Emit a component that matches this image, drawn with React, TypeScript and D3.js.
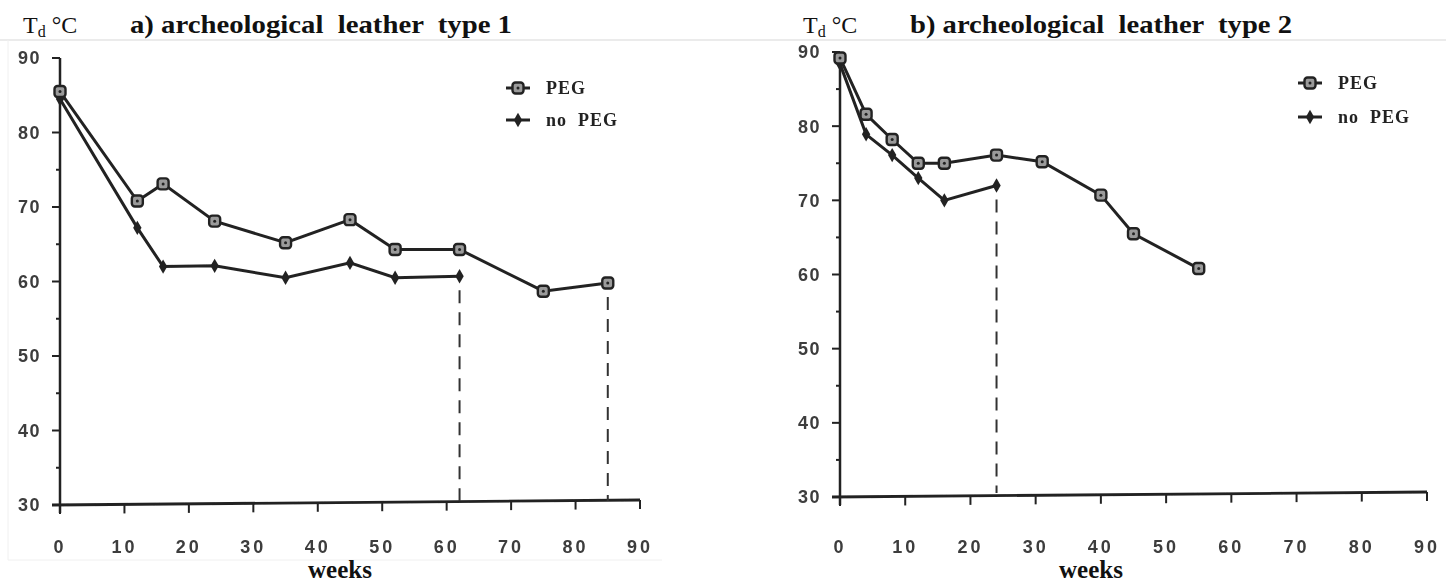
import * as d3 from "d3";

// ---- data ----
const weeksA_peg = [0, 12, 16, 24, 35, 45, 52, 62, 75, 85];
const tdA_peg = [85.5, 70.8, 73.1, 68.1, 65.2, 68.3, 64.3, 64.3, 58.7, 59.8];
const weeksA_noPeg = [0, 12, 16, 24, 35, 45, 52, 62];
const tdA_noPeg = [84.5, 67.2, 62.0, 62.1, 60.5, 62.5, 60.5, 60.7];
const dropA = [62, 85];

const weeksB_peg = [0, 4, 8, 12, 16, 24, 31, 40, 45, 55];
const tdB_peg = [89.2, 81.6, 78.2, 75.0, 75.0, 76.1, 75.2, 70.7, 65.5, 60.8];
const weeksB_noPeg = [0, 4, 8, 12, 16, 24];
const tdB_noPeg = [88.4, 78.9, 76.1, 73.0, 70.0, 72.0];
const dropB = [24];

const xTicks = [0, 10, 20, 30, 40, 50, 60, 70, 80, 90];
const yTicks = [30, 40, 50, 60, 70, 80, 90];
const yMinor = [35, 45, 55, 65, 75, 85];
const seriesNames = ["PEG", "no PEG"];
const titles = ["a) archeological  leather  type 1", "b) archeological  leather  type 2"];

const INK = "#222";
const LABEL = "#3c3c3c";
const SANS = "'Liberation Sans', Arial, sans-serif";
const SERIF = "'Liberation Serif', 'DejaVu Serif', serif";

type PanelProps = {
  x0: number; x1: number; y30: number; y90: number;
  peg: [number[], number[]]; noPeg: [number[], number[]]; drops: number[];
  legendX: number; legendY: number; legendGap: number;
  tdX: number; titleX: number; title: string; weeksX: number;
};

const Panel = (p: PanelProps) => {
  const x = d3.scaleLinear().domain([0, 90]).range([p.x0, p.x1]);
  const y = d3.scaleLinear().domain([30, 90]).range([p.y30, p.y90]);
  const line = d3.line<[number, number]>().x((d) => x(d[0])).y((d) => y(d[1]));
  const pegPts = p.peg[0].map((w, i) => [w, p.peg[1][i]] as [number, number]);
  const noPts = p.noPeg[0].map((w, i) => [w, p.noPeg[1][i]] as [number, number]);
  const lowAt = (w: number) => {
    const vals = [...pegPts, ...noPts].filter((d) => d[0] === w).map((d) => d[1]);
    return d3.min(vals) ?? 30;
  };

  const pegMarker = (cx: number, cy: number, k: string) => (
    <g key={k}>
      <rect x={cx - 5.5} y={cy - 5.5} width={11} height={11} rx={3} fill="#9a9a9a" stroke={INK} strokeWidth={2.4} />
      <circle cx={cx} cy={cy} r={1.5} fill={INK} />
    </g>
  );
  const noMarker = (cx: number, cy: number, k: string) => (
    <path key={k} transform={`translate(${cx},${cy})`} d={d3.symbol(d3.symbolDiamond, 60)() || ""} fill={INK} />
  );

  return (
    <g>
      <text x={p.tdX} y={33} fontFamily={SERIF} fontSize={24} fill="#111">
        T<tspan fontSize={16} dy={4}>d</tspan>
        <tspan dy={-4}> °C</tspan>
      </text>
      <text x={p.titleX} y={33} fontFamily={SERIF} fontSize={26} fontWeight="bold" fill="#111"
        textLength={382} lengthAdjust="spacingAndGlyphs" style={{ whiteSpace: "pre" }}>
        {p.title}
      </text>
      <text x={p.weeksX} y={578} textAnchor="middle" fontFamily={SERIF} fontSize={25} fontWeight="bold" fill="#111">
        weeks
      </text>

      <g filter="url(#scan)">
        {/* axes */}
        <line x1={p.x0} x2={p.x0} y1={y(90)} y2={p.y30 + 8} stroke={INK} strokeWidth={2.5} />
        <line x1={p.x0 - 8} x2={x(90)} y1={p.y30} y2={p.y30 - 5} stroke={INK} strokeWidth={2.8} />
        {yTicks.map((t) => (
          <g key={t}>
            <line x1={p.x0 - 8} x2={p.x0} y1={y(t)} y2={y(t)} stroke={INK} strokeWidth={2} />
            <text x={p.x0 - 19} y={y(t)} dy="0.36em" textAnchor="end" fontFamily={SANS} fontWeight="bold" fontSize={18} fill={LABEL} letterSpacing={1.5}>
              {t}
            </text>
          </g>
        ))}
        {yMinor.map((t) => (
          <line key={t} x1={p.x0 - 4} x2={p.x0} y1={y(t)} y2={y(t)} stroke={INK} strokeWidth={2} />
        ))}
        {xTicks.map((t) => {
          const by = p.y30 - (5 * t) / 90;
          return (
            <g key={t}>
              <line x1={x(t)} x2={x(t)} y1={by} y2={by + 9} stroke={INK} strokeWidth={2} />
              <text x={x(t)} y={547} dy="0.36em" textAnchor="middle" fontFamily={SANS} fontWeight="bold" fontSize={18} fill={LABEL} letterSpacing={3}>
                {t}
              </text>
            </g>
          );
        })}

        {/* drop lines */}
        {p.drops.map((w) => (
          <line key={w} x1={x(w)} x2={x(w)} y1={y(lowAt(w)) + 14} y2={p.y30 - 4} stroke="#333" strokeWidth={2} strokeDasharray="13 9" />
        ))}

        {/* series */}
        <path d={line(pegPts) || ""} fill="none" stroke={INK} strokeWidth={3} />
        <path d={line(noPts) || ""} fill="none" stroke={INK} strokeWidth={3} />
        {noPts.map((d, i) => noMarker(x(d[0]), y(d[1]), "n" + i))}
        {pegPts.map((d, i) => pegMarker(x(d[0]), y(d[1]), "p" + i))}

        {/* legend */}
        {seriesNames.map((name, i) => {
          const ly = p.legendY + i * p.legendGap;
          return (
            <g key={name}>
              <line x1={p.legendX - 12} x2={p.legendX + 12} y1={ly} y2={ly} stroke={INK} strokeWidth={3} />
              {i === 0 ? pegMarker(p.legendX, ly, "lg") : noMarker(p.legendX, ly, "lg")}
              <text x={p.legendX + 28} y={ly} dy="0.36em" fontFamily={SERIF} fontWeight="bold" fontSize={18} fill={INK} letterSpacing={1} style={{ whiteSpace: "pre" }}>
                {name === "no PEG" ? "no  PEG" : name}
              </text>
            </g>
          );
        })}
      </g>
    </g>
  );
};

export default function App() {
  return (
    <svg width={1446} height={585} style={{ position: "absolute", left: 0, top: 0, background: "#fff" }}>
      <defs>
        <filter id="scan">
          <feGaussianBlur stdDeviation={0.7} />
        </filter>
      </defs>
      <line x1={0} x2={1446} y1={40} y2={40} stroke="#e4e4e4" strokeWidth={1.5} />
      <line x1={8} x2={8} y1={40} y2={560} stroke="#f0f0f0" strokeWidth={1} />
      <line x1={8} x2={662} y1={560} y2={560} stroke="#f0f0f0" strokeWidth={1} />
      <Panel
        x0={60} x1={640} y30={505} y90={58}
        peg={[weeksA_peg, tdA_peg]} noPeg={[weeksA_noPeg, tdA_noPeg]} drops={dropA}
        legendX={518} legendY={88} legendGap={32}
        tdX={23} titleX={130} title={titles[0]} weeksX={340}
      />
      <Panel
        x0={840} x1={1427} y30={497} y90={52}
        peg={[weeksB_peg, tdB_peg]} noPeg={[weeksB_noPeg, tdB_noPeg]} drops={dropB}
        legendX={1310} legendY={83} legendGap={34}
        tdX={803} titleX={910} title={titles[1]} weeksX={1091}
      />
    </svg>
  );
}
